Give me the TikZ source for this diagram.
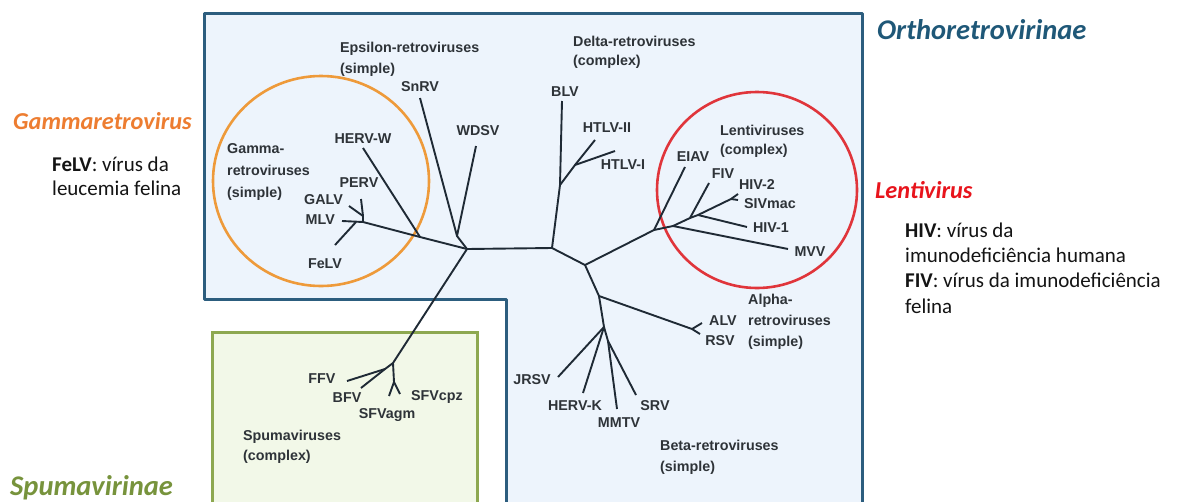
\documentclass[tikz,border=0pt]{standalone}
\usepackage{fontspec}
\setmainfont{Carlito}
\newfontfamily\arialf{Liberation Sans}
\definecolor{orthoc}{HTML}{2C5D7E}
\definecolor{orthofill}{HTML}{EDF4FC}
\definecolor{spumac}{HTML}{8DA850}
\definecolor{spumafill}{HTML}{F2F8E8}
\definecolor{gammac}{HTML}{EE9A3A}
\definecolor{lentic}{HTML}{E0353B}
\definecolor{treec}{HTML}{1F2A35}
\definecolor{labc}{HTML}{2E3338}
\definecolor{orthot}{HTML}{1F5878}
\definecolor{gammat}{HTML}{ED7D31}
\definecolor{lentit}{HTML}{E8141C}
\definecolor{spumat}{HTML}{77933C}
\begin{document}
\begin{tikzpicture}[x=1pt,y=-1pt,
  br/.style={line width=1.9pt, draw=treec, line join=round},
  lab/.style={font=\arialf\bfseries\fontsize{14.3}{16}\selectfont, text=labc, inner sep=0pt},
  grp/.style={lab, align=left, anchor=west, font=\arialf\bfseries\fontsize{14.3}{21}\selectfont},
  note/.style={font=\fontsize{21}{25.3}\selectfont, align=left, anchor=west, inner sep=0pt, text=black!92},
  tax/.style={font=\bfseries\itshape\fontsize{24.3}{28}\selectfont, anchor=base west, inner sep=0pt}
]
\useasboundingbox (0,0) rectangle (1178,501);
\fill[white] (0,0) rectangle (1178,501);
\begin{scope}
\clip (0,0) rectangle (1178,501);
\draw[line width=3pt, draw=orthoc, fill=orthofill, line join=round]
  (204,13) -- (862,13) -- (862,515) -- (506,515) -- (506,299) -- (204,299) -- cycle;
\draw[line width=3pt, draw=spumac, fill=spumafill] (212,332) rectangle (477,515);
\end{scope}
\draw[gammac, line width=2.6pt] (321,181) ellipse[x radius=108pt, y radius=105pt];
\draw[lentic, line width=2.6pt] (757,190) ellipse[x radius=100pt, y radius=98pt];

% tree coordinates
\coordinate (hub) at (467,249);
\coordinate (deltaJ) at (552,248);
\coordinate (eps) at (457,236);
\coordinate (snrvE) at (420,98);
\coordinate (wdsvE) at (476,146);
\coordinate (gJ) at (420,237);
\coordinate (hervwE) at (363,148);
\coordinate (gJ2) at (363,222);
\coordinate (mlvE) at (342,221);
\coordinate (gfork) at (363,216);
\coordinate (pervE) at (361,199);
\coordinate (galvE) at (349,206);
\coordinate (felvJ) at (356,222);
\coordinate (felvE) at (335,245);
\coordinate (spJ) at (393,363);
\coordinate (spa) at (385,369);
\coordinate (ffvE) at (347,381);
\coordinate (bfvE) at (361,388);
\coordinate (spb) at (394,382);
\coordinate (agmE) at (389,396);
\coordinate (cpzE) at (400,394);
\coordinate (dJ) at (560,185);
\coordinate (blvE) at (562,101);
\coordinate (hJ) at (575,165);
\coordinate (htlv2E) at (595,140);
\coordinate (htlv1E) at (615,151);
\coordinate (rJ) at (585,265);
\coordinate (lJ) at (654,230);
\coordinate (eiavE) at (685,167);
\coordinate (lJ2) at (673,226);
\coordinate (mvvE) at (788,249);
\coordinate (fJ) at (690,218);
\coordinate (fivE) at (709,183);
\coordinate (hJ2) at (698,215);
\coordinate (hiv1E) at (747,227);
\coordinate (sJ) at (731,199);
\coordinate (hiv2E) at (738,194);
\coordinate (sivE) at (738,200);
\coordinate (aJ) at (599,296);
\coordinate (alvJ) at (692,329);
\coordinate (alvE) at (702,323);
\coordinate (rsvE) at (700,334);
\coordinate (bJ) at (604,327);
\coordinate (jrsvE) at (558,377);
\coordinate (hervkE) at (583,393);
\coordinate (bJ2) at (608,341);
\coordinate (mmtvE) at (617,409);
\coordinate (srvE) at (636,395);

% branches
\draw[br] (hub) -- (deltaJ);
\draw[br] (hub) -- (eps) -- (snrvE);
\draw[br] (eps) -- (wdsvE);
\draw[br] (hub) -- (gJ) -- (hervwE);
\draw[br] (gJ) -- (gJ2) -- (mlvE);
\draw[br] (gJ2) -- (gfork) -- (pervE);
\draw[br] (gfork) -- (galvE);
\draw[br] (felvJ) -- (felvE);
\draw[br] (hub) -- (spJ) -- (spa) -- (ffvE);
\draw[br] (spa) -- (bfvE);
\draw[br] (spJ) -- (spb) -- (agmE);
\draw[br] (spb) -- (cpzE);
\draw[br] (deltaJ) -- (dJ) -- (blvE);
\draw[br] (dJ) -- (hJ) -- (htlv2E);
\draw[br] (hJ) -- (htlv1E);
\draw[br] (deltaJ) -- (rJ) -- (lJ) -- (lJ2) -- (mvvE);
\draw[br] (lJ) -- (eiavE);
\draw[br] (lJ2) -- (fJ) -- (fivE);
\draw[br] (fJ) -- (hJ2) -- (hiv1E);
\draw[br] (hJ2) -- (sJ) -- (hiv2E);
\draw[br] (sJ) -- (sivE);
\draw[br] (rJ) -- (aJ) -- (bJ) -- (bJ2) -- (mmtvE);
\draw[br] (aJ) -- (alvJ) -- (alvE);
\draw[br] (alvJ) -- (rsvE);
\draw[br] (bJ) -- (jrsvE);
\draw[br] (bJ) -- (hervkE);
\draw[br] (bJ2) -- (srvE);

% leaf labels
\node[lab] (snrv) at (420,87) {SnRV};
\node[lab] (wdsv) at (478,131) {WDSV};
\node[lab] (hervw) at (363,139) {HERV-W};
\node[lab] (perv) at (359,183) {PERV};
\node[lab, anchor=east] (galv) at (343,200) {GALV};
\node[lab, anchor=east] (mlv) at (335,220) {MLV};
\node[lab] (felv) at (325,264) {FeLV};
\node[lab] (blv) at (565,92) {BLV};
\node[lab] (htlv2) at (607,128) {HTLV-II};
\node[lab] (htlv1) at (623,165) {HTLV-I};
\node[lab] (eiav) at (693,157) {EIAV};
\node[lab] (fiv) at (723,174) {FIV};
\node[lab] (hiv2) at (757,185) {HIV-2};
\node[lab] (siv) at (770,204) {SIVmac};
\node[lab] (hiv1) at (771,228) {HIV-1};
\node[lab] (mvv) at (810,252) {MVV};
\node[lab] (alv) at (723,321) {ALV};
\node[lab] (rsv) at (720,341) {RSV};
\node[lab] (jrsv) at (532,380) {JRSV};
\node[lab] (hervk) at (575,406) {HERV-K};
\node[lab] (mmtv) at (619,423) {MMTV};
\node[lab] (srv) at (655,406) {SRV};
\node[lab] (ffv) at (322,379) {FFV};
\node[lab] (bfv) at (347,398) {BFV};
\node[lab] (sfvagm) at (387,415) {SFVagm};
\node[lab] (sfvcpz) at (437,397) {SFVcpz};

% group labels
\node[grp] (epsG) at (340,59.5) {Epsilon-retroviruses\\(simple)};
\node[grp, font=\arialf\bfseries\fontsize{14.3}{22}\selectfont] (gamG) at (227,172) {Gamma-\\retroviruses\\(simple)};
\node[grp, font=\arialf\bfseries\fontsize{14.3}{19}\selectfont] (delG) at (573,52.5) {Delta-retroviruses\\(complex)};
\node[grp, font=\arialf\bfseries\fontsize{14.3}{19}\selectfont] (lenG) at (720,141.5) {Lentiviruses\\(complex)};
\node[grp] (alpG) at (748,321.5) {Alpha-\\retroviruses\\(simple)};
\node[grp] (betG) at (660,457.5) {Beta-retroviruses\\(simple)};
\node[grp, font=\arialf\bfseries\fontsize{14.3}{20}\selectfont] (spuG) at (243,447) {Spumaviruses\\(complex)};

% annotations
\node[tax, text=orthot, font=\bfseries\itshape\fontsize{28.5}{32}\selectfont] (ortho) at (877,39) {Orthoretrovirinae};
\node[tax, text=gammat] (gamma) at (13,129) {Gammaretrovirus};
\node[tax, text=lentit] (lenti) at (875,198) {Lentivirus};
\node[tax, text=spumat, font=\bfseries\itshape\fontsize{28.5}{32}\selectfont] (spuma) at (10,495) {Spumavirinae};
\node[note, font=\fontsize{21}{24}\selectfont] (felvN) at (52,176) {\textbf{FeLV}: vírus da\\leucemia felina};
\node[note] (hivN) at (905,268) {\textbf{HIV}: vírus da\\imunodeficiência humana\\\textbf{FIV}: vírus da imunodeficiência\\felina};
\end{tikzpicture}
\end{document}
